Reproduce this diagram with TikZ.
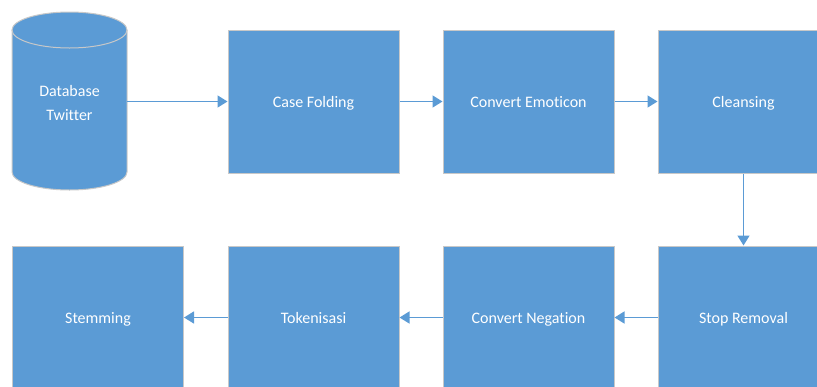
\documentclass[tikz,border=0pt]{standalone}
\usepackage{fontspec}
\setmainfont[Ligatures=NoCommon]{Carlito}
\usetikzlibrary{arrows.meta}
\definecolor{boxblue}{HTML}{5B9BD5}
\definecolor{edgegray}{HTML}{C8C8C8}
\tikzset{
  procbox/.style={rectangle, fill=boxblue, draw=edgegray, line width=1pt,
    minimum width=171pt, minimum height=143pt, inner sep=0pt,
    text=white, font=\fontsize{16}{24}\selectfont, align=center,
    text height=12pt, text depth=0pt},
  flow/.style={draw=boxblue, line width=1.5pt, -{Triangle[length=10pt,width=12pt]}}
}
\begin{document}
\begin{tikzpicture}[x=1pt,y=-1pt]
\useasboundingbox (0,0) rectangle (817,386);
\clip (0,0) rectangle (817,386);
% cylinder
\fill[boxblue] (12,30) rectangle (127,172);
\fill[boxblue] (69.5,172) ellipse[x radius=57.5,y radius=18];
\fill[boxblue] (69.5,30) ellipse[x radius=57.5,y radius=18];
\draw[edgegray,line width=1pt] (12,30) -- (12,172) arc[start angle=180,end angle=0,x radius=57.5,y radius=18] -- (127,30);
\draw[edgegray,line width=1pt] (69.5,30) ellipse[x radius=57.5,y radius=18];
\node[rectangle, minimum width=115pt, minimum height=178pt, inner sep=0pt, text=white, font=\fontsize{16}{24}\selectfont, align=center] (db) at (69.5,103) {Database\\Twitter};
% boxes
\node[procbox] (cf) at (313.5,101.5) {Case Folding};
\node[procbox] (ce) at (528.5,101.5) {Convert Emoticon};
\node[procbox] (cl) at (743.5,101.5) {Cleansing};
\node[procbox] (sr) at (743.5,317.5) {Stop Removal};
\node[procbox] (cn) at (528.5,317.5) {Convert Negation};
\node[procbox] (tk) at (313.5,317.5) {Tokenisasi};
\node[procbox] (st) at (98,317.5) {Stemming};
% connectors
\draw[flow] (db.east |- cf.west) -- (cf.west);
\draw[flow] (cf) -- (ce);
\draw[flow] (ce) -- (cl);
\draw[flow] (cl) -- (sr);
\draw[flow] (sr) -- (cn);
\draw[flow] (cn) -- (tk);
\draw[flow] (tk) -- (st);
\end{tikzpicture}
\end{document}
